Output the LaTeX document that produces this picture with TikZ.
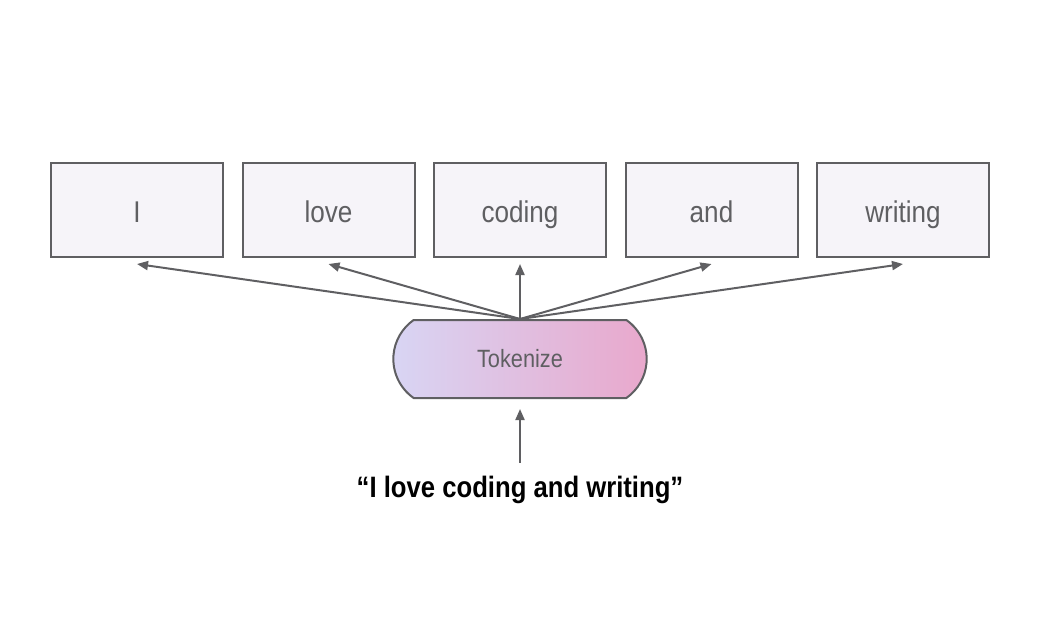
\documentclass[tikz,border=0pt]{standalone}
\usepackage{fontspec}
\setmainfont{Liberation Sans}[FakeStretch=0.87]
\usepackage{tikz}
\usetikzlibrary{shapes.misc, arrows.meta, positioning, calc}
\definecolor{tokgray}{RGB}{95, 95, 98}
\definecolor{tokfill}{RGB}{246, 244, 249}
\definecolor{toklav}{RGB}{216, 213, 244}
\definecolor{tokpink}{RGB}{233, 168, 204}

\begin{document}
\begin{tikzpicture}[x=1pt, y=-1pt,
    tokbox/.style={draw=tokgray, line width=2pt, fill=tokfill, minimum width=172pt,
      minimum height=94pt, inner sep=0pt, text height=25pt, text depth=1pt,
      text=tokgray, font=\fontsize{30}{36}\selectfont},
    tokarrow/.style={draw=tokgray, line width=2pt, -{Triangle[length=11pt, width=9pt]}}]
    \useasboundingbox (0,0) rectangle (1054,621);

    \node[tokbox] (t1) at (137,210) {I};
    \node[tokbox, right=17.5pt of t1] (t2) {love};
    \node[tokbox, right=17.5pt of t2] (t3) {coding};
    \node[tokbox, right=17.5pt of t3] (t4) {and};
    \node[tokbox, right=17.5pt of t4] (t5) {writing};

    \node[rounded rectangle, rounded rectangle arc length=110, draw=tokgray, line width=2pt,
      left color=toklav, right color=tokpink, minimum width=260pt, minimum height=78pt,
      text=tokgray, font=\fontsize{25}{30}\selectfont] (tok) at (520,359) {Tokenize};

    \node[font=\bfseries\fontsize{29.5}{35}\selectfont] (sent) at (520,490) {“I love coding and writing”};

    \foreach \i in {1,...,5}
      \draw[tokarrow] (tok.north) -- ($(t\i.south)+(0,6)$);
    \draw[tokarrow] ([yshift=10pt]sent.north) -- ([yshift=-10pt]tok.south);
\end{tikzpicture}
\end{document}
